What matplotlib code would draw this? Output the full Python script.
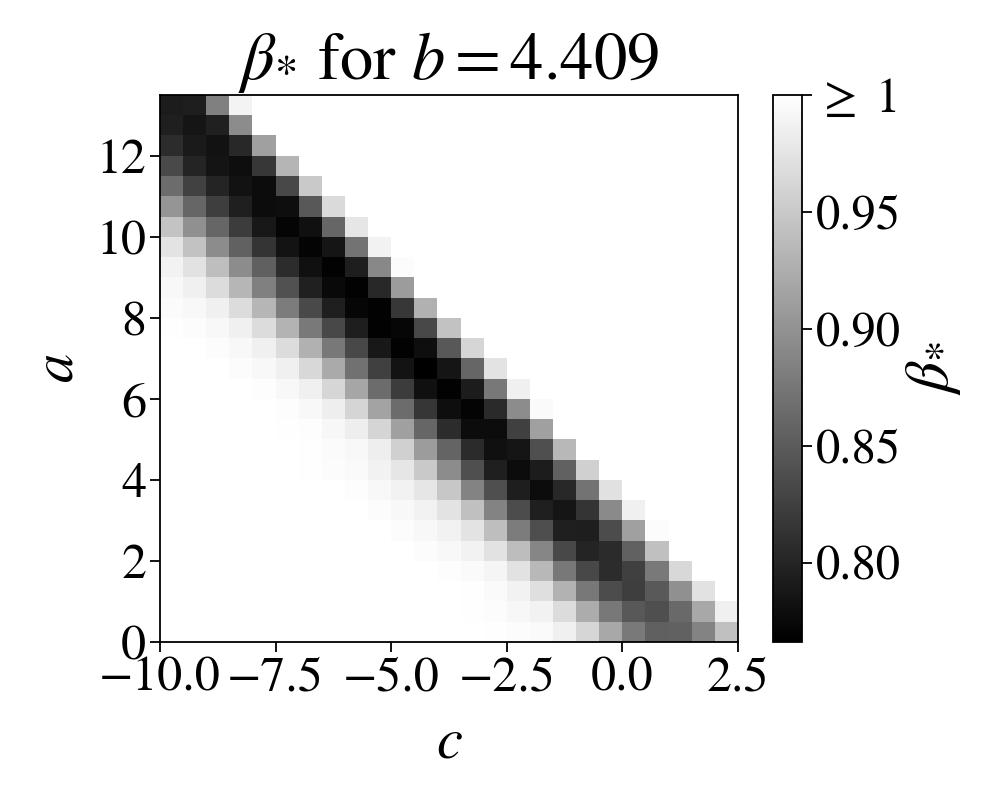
import matplotlib
matplotlib.use("Agg")
import matplotlib.pyplot as plt
import numpy as np

plt.rcParams['font.family'] = ['STIXGeneral', 'DejaVu Serif']
plt.rcParams['mathtext.fontset'] = 'stix'

# Axis ranges of the grid (c horizontally, a vertically)
c_range = (-10.0, 2.5)
a_range = (0.0, 13.5)
b_value = 4.409

x_ticks = [-10.0, -7.5, -5.0, -2.5, 0.0, 2.5]
x_tick_labels = ['\u221210.0', '\u22127.5', '\u22125.0', '\u22122.5', '0.0', '2.5']
y_ticks = [0, 2, 4, 6, 8, 10, 12]
y_tick_labels = ['0', '2', '4', '6', '8', '10', '12']
cbar_ticks = [0.80, 0.85, 0.90, 0.95, 1.00]
cbar_tick_labels = ['0.80', '0.85', '0.90', '0.95', r'$\geq$ 1']
beta_min = 0.766
beta_max = 1.0

# beta_* values, one row per a-band, top row (a = 13.0..13.5) first,
# columns from c = -10 to c = 2.5 in steps of 0.5 (values >= 1 shown as 1)
beta_rows = [
    [0.792, 0.794, 0.883, 0.989, 1, 1, 1, 1, 1, 1, 1, 1, 1, 1, 1, 1, 1, 1, 1, 1, 1, 1, 1, 1, 1],
    [0.795, 0.786, 0.797, 0.894, 1, 1, 1, 1, 1, 1, 1, 1, 1, 1, 1, 1, 1, 1, 1, 1, 1, 1, 1, 1, 1],
    [0.808, 0.790, 0.783, 0.803, 0.913, 1, 1, 1, 1, 1, 1, 1, 1, 1, 1, 1, 1, 1, 1, 1, 1, 1, 1, 1, 1],
    [0.834, 0.800, 0.785, 0.779, 0.817, 0.932, 1, 1, 1, 1, 1, 1, 1, 1, 1, 1, 1, 1, 1, 1, 1, 1, 1, 1, 1],
    [0.865, 0.827, 0.799, 0.783, 0.777, 0.832, 0.950, 1, 1, 1, 1, 1, 1, 1, 1, 1, 1, 1, 1, 1, 1, 1, 1, 1, 1],
    [0.903, 0.860, 0.823, 0.795, 0.777, 0.779, 0.847, 0.966, 1, 1, 1, 1, 1, 1, 1, 1, 1, 1, 1, 1, 1, 1, 1, 1, 1],
    [0.946, 0.898, 0.860, 0.821, 0.788, 0.771, 0.781, 0.860, 0.977, 1, 1, 1, 1, 1, 1, 1, 1, 1, 1, 1, 1, 1, 1, 1, 1],
    [0.975, 0.944, 0.894, 0.856, 0.814, 0.784, 0.770, 0.786, 0.872, 0.988, 1, 1, 1, 1, 1, 1, 1, 1, 1, 1, 1, 1, 1, 1, 1],
    [0.988, 0.973, 0.940, 0.894, 0.854, 0.808, 0.781, 0.768, 0.794, 0.891, 0.997, 1, 1, 1, 1, 1, 1, 1, 1, 1, 1, 1, 1, 1, 1],
    [0.993, 0.986, 0.968, 0.933, 0.883, 0.841, 0.797, 0.775, 0.768, 0.803, 0.909, 1, 1, 1, 1, 1, 1, 1, 1, 1, 1, 1, 1, 1, 1],
    [0.996, 0.993, 0.986, 0.968, 0.933, 0.880, 0.834, 0.795, 0.772, 0.768, 0.817, 0.928, 1, 1, 1, 1, 1, 1, 1, 1, 1, 1, 1, 1, 1],
    [0.999, 0.997, 0.993, 0.986, 0.968, 0.931, 0.878, 0.832, 0.794, 0.768, 0.772, 0.832, 0.944, 1, 1, 1, 1, 1, 1, 1, 1, 1, 1, 1, 1],
    [1, 1, 0.997, 0.993, 0.986, 0.968, 0.928, 0.876, 0.832, 0.788, 0.768, 0.779, 0.847, 0.962, 1, 1, 1, 1, 1, 1, 1, 1, 1, 1, 1],
    [1, 1, 1, 0.997, 0.993, 0.986, 0.964, 0.922, 0.871, 0.825, 0.784, 0.766, 0.786, 0.860, 0.975, 1, 1, 1, 1, 1, 1, 1, 1, 1, 1],
    [1, 1, 1, 1, 0.998, 0.993, 0.986, 0.962, 0.918, 0.865, 0.821, 0.781, 0.768, 0.792, 0.876, 0.986, 1, 1, 1, 1, 1, 1, 1, 1, 1],
    [1, 1, 1, 1, 1, 0.998, 0.993, 0.984, 0.961, 0.916, 0.865, 0.816, 0.779, 0.770, 0.805, 0.894, 0.995, 1, 1, 1, 1, 1, 1, 1, 1],
    [1, 1, 1, 1, 1, 0.999, 0.998, 0.992, 0.984, 0.961, 0.913, 0.860, 0.808, 0.777, 0.777, 0.825, 0.913, 1, 1, 1, 1, 1, 1, 1, 1],
    [1, 1, 1, 1, 1, 1, 0.999, 0.996, 0.993, 0.984, 0.957, 0.909, 0.858, 0.806, 0.781, 0.786, 0.839, 0.935, 1, 1, 1, 1, 1, 1, 1],
    [1, 1, 1, 1, 1, 1, 0.999, 0.997, 0.995, 0.988, 0.977, 0.950, 0.894, 0.839, 0.795, 0.777, 0.792, 0.856, 0.957, 1, 1, 1, 1, 1, 1],
    [1, 1, 1, 1, 1, 1, 1, 1, 0.998, 0.993, 0.988, 0.977, 0.948, 0.887, 0.839, 0.794, 0.777, 0.803, 0.872, 0.972, 1, 1, 1, 1, 1],
    [1, 1, 1, 1, 1, 1, 1, 1, 1, 0.997, 0.993, 0.988, 0.975, 0.942, 0.887, 0.836, 0.795, 0.786, 0.814, 0.893, 0.986, 1, 1, 1, 1],
    [1, 1, 1, 1, 1, 1, 1, 1, 1, 1, 0.997, 0.993, 0.988, 0.975, 0.940, 0.880, 0.838, 0.795, 0.794, 0.836, 0.913, 0.997, 1, 1, 1],
    [1, 1, 1, 1, 1, 1, 1, 1, 1, 1, 1, 0.997, 0.993, 0.988, 0.973, 0.939, 0.889, 0.832, 0.799, 0.806, 0.856, 0.942, 1, 1, 1],
    [1, 1, 1, 1, 1, 1, 1, 1, 1, 1, 1, 1, 0.998, 0.995, 0.990, 0.973, 0.935, 0.876, 0.832, 0.808, 0.825, 0.878, 0.964, 1, 1],
    [1, 1, 1, 1, 1, 1, 1, 1, 1, 1, 1, 1, 1, 0.999, 0.995, 0.988, 0.970, 0.929, 0.876, 0.836, 0.823, 0.849, 0.898, 0.973, 1],
    [1, 1, 1, 1, 1, 1, 1, 1, 1, 1, 1, 1, 1, 0.999, 0.997, 0.992, 0.988, 0.968, 0.924, 0.876, 0.847, 0.839, 0.863, 0.920, 0.986],
    [1, 1, 1, 1, 1, 1, 1, 1, 1, 1, 1, 1, 1, 1, 0.999, 0.997, 0.995, 0.986, 0.962, 0.920, 0.878, 0.854, 0.856, 0.887, 0.942],
]

data = np.array(beta_rows, dtype=float)

fig = plt.figure(figsize=(9.97, 7.97), dpi=100)
ax = fig.add_axes([0.1605, 0.1945, 0.5797, 0.6863])
cax = fig.add_axes([0.7753, 0.1945, 0.0291, 0.6863])

im = ax.imshow(data, cmap='gray', vmin=beta_min, vmax=beta_max,
               extent=[c_range[0], c_range[1], a_range[0], a_range[1]],
               origin='upper', aspect='auto', interpolation='nearest')
ax.set_xlim(*c_range)
ax.set_ylim(*a_range)

ax.set_xticks(x_ticks)
ax.set_xticklabels(x_tick_labels, fontsize=36)
ax.set_yticks(y_ticks)
ax.set_yticklabels(y_tick_labels, fontsize=36)
ax.tick_params(length=7, width=1.3, pad=3)
for s in ax.spines.values():
    s.set_linewidth(1.3)

ax.set_xlabel(r'$c$', fontsize=42, labelpad=12)
ax.set_ylabel(r'$a$', fontsize=42, labelpad=8)
ax.set_title(r'$\beta_{*}$ for $b = %s$' % b_value, fontsize=48, pad=4)

cbar = fig.colorbar(im, cax=cax)
cbar.set_ticks(cbar_ticks)
cbar.set_ticklabels(cbar_tick_labels)
cbar.ax.tick_params(labelsize=35, length=7, width=1.3, pad=3)
cbar.outline.set_linewidth(1.3)
cbar.set_label(r'$\beta_{*}$', fontsize=44, labelpad=2)

fig.savefig('out.png', dpi=100)
